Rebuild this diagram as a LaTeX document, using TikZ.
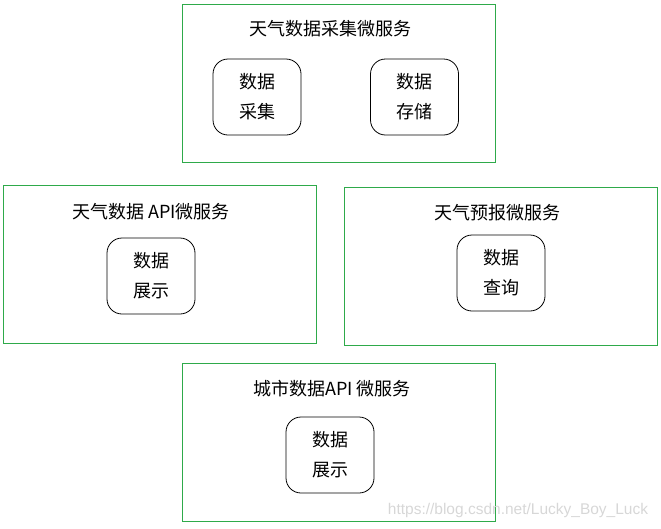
\documentclass[tikz,border=0pt]{standalone}
\usepackage{fontspec}
\setmainfont{Noto Sans CJK SC}
\newfontfamily\wmfont{Liberation Sans}
\definecolor{boxgreen}{RGB}{46,170,74}
\definecolor{wmgray}{RGB}{215,215,215}
\begin{document}
\begin{tikzpicture}[x=1pt,y=-1pt,
  svc/.style={draw=boxgreen, line width=0.9pt, minimum width=313pt, minimum height=158pt, inner sep=0pt},
  fn/.style={draw=black, line width=0.8pt, rounded corners=15pt, minimum width=88pt, minimum height=76pt, inner sep=0pt, align=center, font=\fontsize{18}{30}\selectfont},
  ttl/.style={font=\fontsize{18}{21}\selectfont, inner sep=0pt}]
\useasboundingbox (0,0) rectangle (661,528);
% service boxes
\node[svc] (s1) at (338.5,83) {};
\node[svc] (s2) at (159.5,264) {};
\node[svc] (s3) at (500.5,266) {};
\node[svc] (s4) at (338.5,442) {};
% titles
\node[ttl] (t1) at (330,29) {天气数据采集微服务};
\node[ttl] (t2) at (151,212) {天气数据 API微服务};
\node[ttl] (t3) at (497,213) {天气预报微服务};
\node[ttl] (t4) at (332,389) {城市数据API 微服务};
% function boxes
\node[fn] (f1) at (257,97) {数据\\采集};
\node[fn] (f2) at (414.5,97) {数据\\存储};
\node[fn] (f3) at (151,276) {数据\\展示};
\node[fn] (f4) at (501,273) {数据\\查询};
\node[fn] (f5) at (330,455) {数据\\展示};
% watermark
\node[text=wmgray, font=\wmfont\fontsize{15.5}{18}\selectfont, inner sep=0pt] (wm) at (518,510) {https://blog.csdn.net/Lucky\_Boy\_Luck};
\end{tikzpicture}
\end{document}
